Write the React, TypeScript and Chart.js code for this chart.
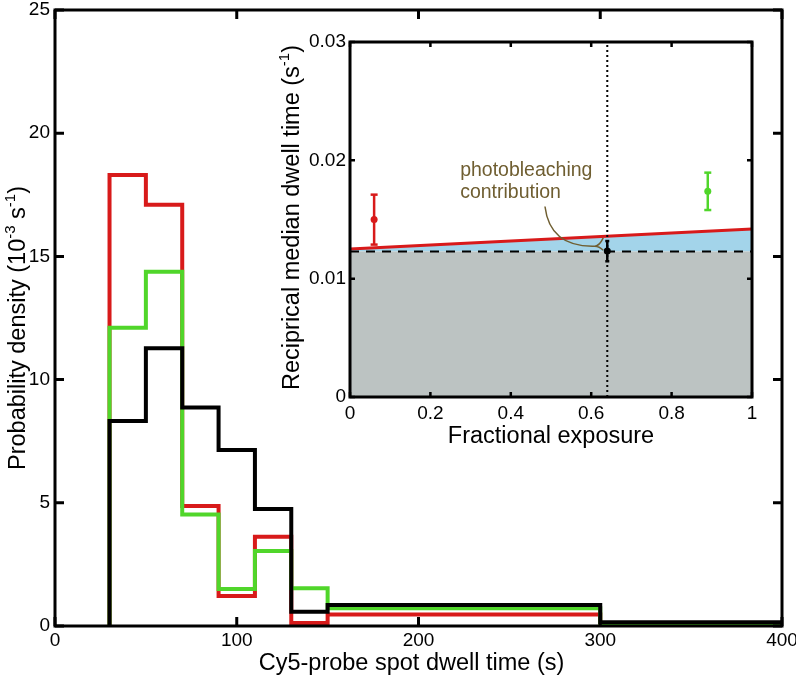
import React, { useEffect, useRef } from "react";
import { Chart, registerables } from "chart.js";

Chart.register(...registerables);

// ---------- main histogram data ----------
const binEdges = [30, 50, 70, 90, 110, 130, 150, 300, 400];
const redDensity = [18.3, 17.1, 4.87, 1.22, 3.62, 0.12, 0.47, 0];
const greenDensity = [12.1, 14.38, 4.53, 1.5, 3.04, 1.53, 0.72, 0];
const blackDensity = [8.32, 11.27, 8.87, 7.14, 4.75, 0.58, 0.85, 0.15];

const mainXTicks = [0, 100, 200, 300, 400];
const mainXLabels = ["0", "100", "200", "300", "400"];
const mainYTicks = [0, 5, 10, 15, 20, 25];
const mainYLabels = ["0", "5", "10", "15", "20", "25"];

// ---------- inset data ----------
const insetXTicks = [0, 0.2, 0.4, 0.6, 0.8, 1];
const insetXLabels = ["0", "0.2", "0.4", "0.6", "0.8", "1"];
const insetYTicks = [0, 0.01, 0.02, 0.03];
const insetYLabels = ["0", "0.01", "0.02", "0.03"];

const exposureRange = [0, 1];
const intrinsicRate = 0.0123;
const fitRate = [0.0125, 0.0142];
const markedExposure = 0.64;
const pointExposure = [0.06, 0.64, 0.89];
const pointRate = [0.015, 0.01234, 0.01738];
const pointLow = [0.01288, 0.01147, 0.0158];
const pointHigh = [0.0171, 0.01318, 0.01896];

const annotationLines = ["photobleaching", "contribution"];

const RED = "#d81a1a";
const GREEN = "#50d62a";
const BLACK = "#000000";
const GREY = "#bcc3c2";
const BLUE = "#a3d4ea";
const OLIVE = "#6f5e31";
const pointColors = [RED, BLACK, GREEN];

const FAMILY = "'Liberation Sans', Arial, Helvetica, sans-serif";
const TICK_SIZE = 19;
const TITLE_SIZE = 23.5;

type Part = { text: string; sup?: boolean };

function drawRotatedRich(ctx: CanvasRenderingContext2D, parts: Part[], baseX: number, cy: number, size: number) {
  ctx.save();
  ctx.translate(baseX, cy);
  ctx.rotate(-Math.PI / 2);
  ctx.fillStyle = "#000";
  ctx.textAlign = "left";
  ctx.textBaseline = "alphabetic";
  const supSize = Math.round(size * 0.62);
  let total = 0;
  parts.forEach((p) => {
    ctx.font = `${p.sup ? supSize : size}px ${FAMILY}`;
    total += ctx.measureText(p.text).width;
  });
  let x = -total / 2;
  parts.forEach((p) => {
    ctx.font = `${p.sup ? supSize : size}px ${FAMILY}`;
    ctx.fillText(p.text, x, p.sup ? -size * 0.42 : 0);
    x += ctx.measureText(p.text).width;
  });
  ctx.restore();
}

function framePlugin(id: string, xTicks: number[], yTicks: number[], lw: number, tickLen: number, tickW: number) {
  return {
    id,
    afterDatasetsDraw(chart: any) {
      const { ctx, chartArea } = chart;
      const { left, right, top, bottom } = chartArea;
      const xs = chart.scales.x;
      const ys = chart.scales.y;
      ctx.save();
      ctx.strokeStyle = "#000";
      ctx.lineJoin = "miter";
      ctx.lineCap = "butt";
      ctx.lineWidth = tickW;
      ctx.beginPath();
      xTicks.forEach((v) => {
        const px = xs.getPixelForValue(v);
        ctx.moveTo(px, bottom);
        ctx.lineTo(px, bottom - tickLen);
        ctx.moveTo(px, top);
        ctx.lineTo(px, top + tickLen);
      });
      yTicks.forEach((v) => {
        const py = ys.getPixelForValue(v);
        ctx.moveTo(left, py);
        ctx.lineTo(left + tickLen, py);
        ctx.moveTo(right, py);
        ctx.lineTo(right - tickLen, py);
      });
      ctx.stroke();
      ctx.lineWidth = lw;
      ctx.strokeRect(left, top, right - left, bottom - top);
      ctx.restore();
    },
  };
}

function fixedAxis(size: number, horizontal: boolean) {
  return (s: any) => {
    if (horizontal) s.height = size;
    else s.width = size;
    s.paddingLeft = 0;
    s.paddingRight = 0;
    s.paddingTop = 0;
    s.paddingBottom = 0;
  };
}

function stepPoints(values: number[]) {
  return binEdges.map((e, i) => ({ x: e, y: i === 0 ? 0 : values[i - 1] }));
}

function histDataset(values: number[], color: string) {
  return {
    data: stepPoints(values),
    borderColor: color,
    borderWidth: 4,
    stepped: "after",
    pointRadius: 0,
    fill: false,
    borderJoinStyle: "miter",
    borderCapStyle: "butt",
    tension: 0,
  };
}

export default function App() {
  const mainRef = useRef<HTMLCanvasElement>(null);
  const insetRef = useRef<HTMLCanvasElement>(null);

  useEffect(() => {
    const tickFont = { family: FAMILY, size: TICK_SIZE };

    const mainTitles = {
      id: "mainTitles",
      afterDraw(chart: any) {
        const { ctx, chartArea } = chart;
        ctx.save();
        ctx.fillStyle = "#000";
        ctx.font = `${TITLE_SIZE}px ${FAMILY}`;
        ctx.textAlign = "center";
        ctx.textBaseline = "alphabetic";
        ctx.fillText("Cy5-probe spot dwell time (s)", (chartArea.left + chartArea.right) / 2 - 7, chartArea.bottom + 44);
        ctx.restore();
        drawRotatedRich(
          ctx,
          [
            { text: "Probability density (10" },
            { text: "-3", sup: true },
            { text: " s" },
            { text: "-1", sup: true },
            { text: ")" },
          ],
          chartArea.left - 30,
          (chartArea.top + chartArea.bottom) / 2 + 10,
          TITLE_SIZE
        );
      },
    };

    const main = new Chart(mainRef.current as HTMLCanvasElement, {
      type: "line",
      data: {
        datasets: [
          histDataset(blackDensity, BLACK),
          histDataset(greenDensity, GREEN),
          histDataset(redDensity, RED),
        ] as any,
      },
      options: {
        animation: false,
        responsive: false,
        devicePixelRatio: 1,
        layout: { padding: { left: 0, top: 10, right: 14, bottom: 0 } },
        plugins: { legend: { display: false }, tooltip: { enabled: false } },
        scales: {
          x: {
            type: "linear",
            min: 0,
            max: 400,
            grid: { display: false, drawTicks: false },
            border: { display: false },
            afterBuildTicks: (s: any) => {
              s.ticks = mainXTicks.map((v) => ({ value: v }));
            },
            afterFit: fixedAxis(53, true),
            ticks: {
              padding: 3,
              color: "#000",
              font: tickFont,
              maxRotation: 0,
              autoSkip: false,
              callback: (_v: any, i: number) => mainXLabels[i],
            },
          },
          y: {
            type: "linear",
            min: 0,
            max: 25,
            grid: { display: false, drawTicks: false },
            border: { display: false },
            afterBuildTicks: (s: any) => {
              s.ticks = mainYTicks.map((v) => ({ value: v }));
            },
            afterFit: fixedAxis(55, false),
            ticks: {
              padding: 5,
              color: "#000",
              font: tickFont,
              autoSkip: false,
              callback: (_v: any, i: number) => mainYLabels[i],
            },
          },
        },
      } as any,
      plugins: [framePlugin("mainFrame", mainXTicks, mainYTicks, 3, 9, 3), mainTitles],
    });

    const insetExtras = {
      id: "insetExtras",
      afterDraw(chart: any) {
        const { ctx, chartArea } = chart;
        const xs = chart.scales.x;
        const ys = chart.scales.y;
        ctx.save();
        ctx.fillStyle = "#000";
        ctx.font = `${TITLE_SIZE}px ${FAMILY}`;
        ctx.textAlign = "center";
        ctx.textBaseline = "alphabetic";
        ctx.fillText("Fractional exposure", (chartArea.left + chartArea.right) / 2, chartArea.bottom + 46);
        // annotation text
        ctx.fillStyle = OLIVE;
        ctx.font = `19.5px ${FAMILY}`;
        ctx.textAlign = "left";
        ctx.fillText(annotationLines[0], xs.getPixelForValue(0.274), ys.getPixelForValue(0.0187));
        ctx.fillText(annotationLines[1], xs.getPixelForValue(0.274), ys.getPixelForValue(0.0168));
        // leader curve
        const sx = xs.getPixelForValue(0.485), sy = ys.getPixelForValue(0.0161);
        const cx = xs.getPixelForValue(0.4975), cy = ys.getPixelForValue(0.01265);
        const ex = xs.getPixelForValue(0.609), ey = ys.getPixelForValue(0.01275);
        const fx = xs.getPixelForValue(0.63);
        const fyTop = ys.getPixelForValue(0.01345);
        const fyBot = ys.getPixelForValue(0.0124);
        ctx.strokeStyle = OLIVE;
        ctx.lineWidth = 1.5;
        ctx.beginPath();
        ctx.moveTo(sx, sy);
        ctx.quadraticCurveTo(cx, cy, ex, ey);
        ctx.quadraticCurveTo(fx - 4, ey, fx, fyTop);
        ctx.moveTo(ex, ey);
        ctx.quadraticCurveTo(fx - 4, ey, fx, fyBot);
        ctx.stroke();
        ctx.restore();
        drawRotatedRich(
          ctx,
          [{ text: "Reciprical median dwell time (s" }, { text: "-1", sup: true }, { text: ")" }],
          chartArea.left - 51,
          (chartArea.top + chartArea.bottom) / 2 - 2,
          TITLE_SIZE
        );
      },
    };

    const errorBarSets = pointExposure.map((x, i) => ({
      data: [
        { x, y: pointLow[i] },
        { x, y: pointHigh[i] },
      ],
      borderColor: pointColors[i],
      borderWidth: 2.5,
      pointStyle: "line",
      pointRadius: i === 1 ? 2 : 3.5,
      pointBorderWidth: 2.5,
      pointBorderColor: pointColors[i],
      fill: false,
      order: 2,
    }));

    const inset = new Chart(insetRef.current as HTMLCanvasElement, {
      type: "line",
      data: {
        datasets: [
          {
            data: exposureRange.map((x) => ({ x, y: intrinsicRate })),
            borderColor: BLACK,
            borderWidth: 2,
            borderDash: [9, 7],
            fill: "origin",
            backgroundColor: GREY,
            pointRadius: 0,
            order: 4,
          },
          {
            data: exposureRange.map((x, i) => ({ x, y: fitRate[i] })),
            borderColor: RED,
            borderWidth: 3,
            fill: "-1",
            backgroundColor: BLUE,
            pointRadius: 0,
            order: 5,
          },
          {
            data: [
              { x: markedExposure, y: 0 },
              { x: markedExposure, y: 0.03 },
            ],
            borderColor: BLACK,
            borderWidth: 2,
            borderDash: [2, 3],
            pointRadius: 0,
            fill: false,
            order: 3,
          },
          ...errorBarSets,
          {
            data: pointExposure.map((x, i) => ({ x, y: pointRate[i] })),
            showLine: false,
            pointRadius: 3.5,
            pointBackgroundColor: pointColors,
            pointBorderWidth: 0,
            fill: false,
            order: 1,
          },
        ] as any,
      },
      options: {
        animation: false,
        responsive: false,
        devicePixelRatio: 1,
        layout: { padding: { left: 0, top: 22, right: 18, bottom: 0 } },
        plugins: { legend: { display: false }, tooltip: { enabled: false } },
        scales: {
          x: {
            type: "linear",
            min: 0,
            max: 1,
            grid: { display: false, drawTicks: false },
            border: { display: false },
            afterBuildTicks: (s: any) => {
              s.ticks = insetXTicks.map((v) => ({ value: v }));
            },
            afterFit: fixedAxis(55, true),
            ticks: {
              padding: 5,
              color: "#000",
              font: tickFont,
              maxRotation: 0,
              autoSkip: false,
              callback: (_v: any, i: number) => insetXLabels[i],
            },
          },
          y: {
            type: "linear",
            min: 0,
            max: 0.03,
            grid: { display: false, drawTicks: false },
            border: { display: false },
            afterBuildTicks: (s: any) => {
              s.ticks = insetYTicks.map((v) => ({ value: v }));
            },
            afterFit: fixedAxis(80, false),
            ticks: {
              padding: 4,
              color: "#000",
              font: tickFont,
              autoSkip: false,
              callback: (_v: any, i: number) => insetYLabels[i],
            },
          },
        },
      } as any,
      plugins: [framePlugin("insetFrame", insetXTicks, insetYTicks, 3, 5, 2.5), insetExtras],
    });

    return () => {
      main.destroy();
      inset.destroy();
    };
  }, []);

  return (
    <div style={{ position: "fixed", left: 0, top: 0, width: 796, height: 679, background: "#fff" }}>
      <canvas ref={mainRef} width={796} height={679} style={{ position: "absolute", left: 0, top: 0 }} />
      <canvas ref={insetRef} width={500} height={432} style={{ position: "absolute", left: 270, top: 20 }} />
    </div>
  );
}
